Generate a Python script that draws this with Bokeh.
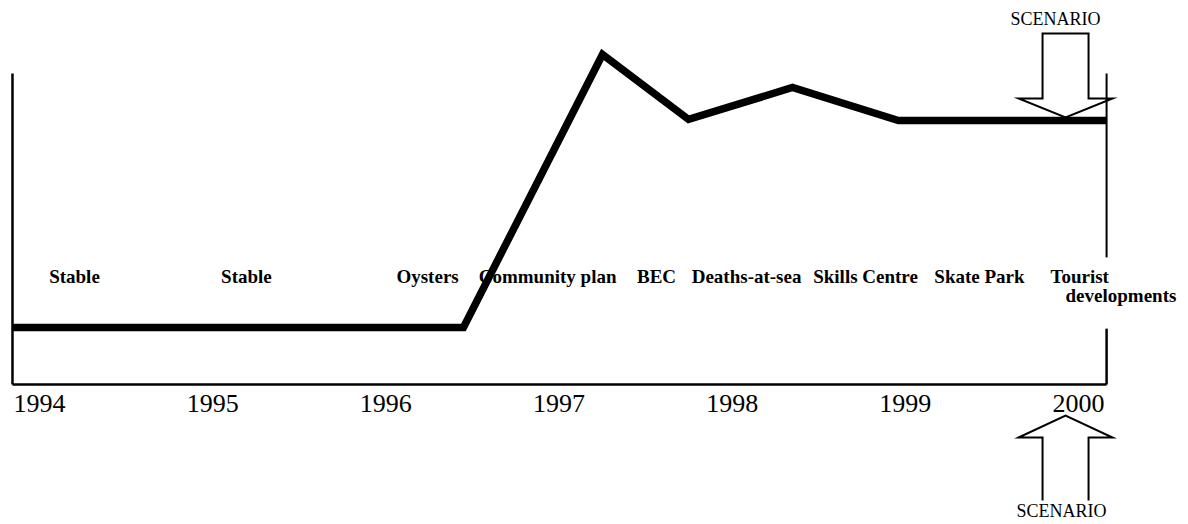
from bokeh.plotting import figure
from bokeh.models import Range1d, ColumnDataSource
from bokeh.core.properties import value
from bokeh.embed import file_html
from bokeh.resources import INLINE

# ---- data ----
years = [1994, 1995, 1996, 1997, 1998, 1999, 2000]
year_labels = [str(y) for y in years]

# trajectory of the "level" (arbitrary units), x in years
trend_x = [1993.844, 1996.448, 1997.251, 1997.748, 1998.348, 1998.960, 2000.162]
trend_y = [1.0, 1.0, 5.79, 4.65, 5.21, 4.63, 4.63]

events = ["Stable", "Stable", "Oysters", "Community plan", "BEC",
          "Deaths-at-sea", "Skills Centre", "Skate Park"]
event_x = [1994.202, 1995.195, 1996.241, 1996.934, 1997.563,
           1998.083, 1998.770, 1999.428]
last_event = ["Tourist", "developments"]
last_event_x = [1999.838, 1999.925]

scenario_x = 1999.925   # where the scenario arrows point
axis_start, axis_end = 1993.844, 2000.162
frame_top = 5.456

# ---- figure ----
W, H = 1188, 524
X0, X1 = 1993.7748, 2000.6350
Y0, Y1 = -2.4561, 6.7368
p = figure(width=W, height=H, output_backend="svg", toolbar_location=None,
           x_range=Range1d(X0, X1), y_range=Range1d(Y0, Y1),
           x_axis_type=None, y_axis_type=None, min_border=0,
           outline_line_color=None, background_fill_color="white",
           border_fill_color="white")
p.grid.visible = False

px_x = (X1 - X0) / W   # years per pixel
px_y = (Y1 - Y0) / H   # units per pixel

SERIF = value("Liberation Serif")

# scenario arrows (outline, white fill)
sw, hw = 23 * px_x, 47 * px_x
top_shaft, top_wing, top_tip = 6.158, 5.018, 4.684
ax = [scenario_x - sw, scenario_x + sw, scenario_x + sw, scenario_x + hw,
      scenario_x, scenario_x - hw, scenario_x - sw]
ay = [top_shaft, top_shaft, top_wing, top_wing, top_tip, top_wing, top_wing]
p.patch(ax, ay, fill_color="white", line_color="black", line_width=2,
        line_join="miter")

bot_tip, bot_wing, bot_end = -0.544, -0.930, -2.035
bx = [scenario_x - sw, scenario_x - sw, scenario_x - hw, scenario_x,
      scenario_x + hw, scenario_x + sw, scenario_x + sw]
by = [bot_end, bot_wing, bot_wing, bot_tip, bot_wing, bot_wing, bot_end]
p.patch(bx, by, fill_color="white", line_color=None)
p.line(bx, by, line_color="black", line_width=2, line_join="miter")

p.text(x=[scenario_x - 10 * px_x], y=[6.421], text=["SCENARIO"],
       text_font=SERIF, text_font_size="18px", text_align="center",
       text_baseline="alphabetic", text_color="black")
p.text(x=[scenario_x - 4 * px_x], y=[-2.228], text=["SCENARIO"],
       text_font=SERIF, text_font_size="18px", text_align="center",
       text_baseline="alphabetic", text_color="black")

# frame lines
p.line([axis_start, axis_start], [0, frame_top], line_color="black", line_width=2.5)
p.line([axis_start, axis_end], [0, 0], line_color="black", line_width=2.5)
p.line([axis_end, axis_end], [0, 0.98], line_color="black", line_width=2.5)
p.line([axis_end, axis_end], [2.23, frame_top], line_color="black", line_width=2)

# trajectory
p.line(trend_x, trend_y, line_color="black", line_width=7.5,
       line_join="miter", line_cap="butt")

# year labels
p.text(x=years, y=[-0.333] * len(years), text=year_labels, text_font=SERIF,
       text_font_size="26px", text_align="center", text_baseline="alphabetic",
       text_color="black")

# event labels
src = ColumnDataSource(dict(x=event_x, y=[1.895] * len(events), t=events))
p.text(x="x", y="y", text="t", source=src, text_font=SERIF,
       text_font_size="19px", text_font_style="bold", text_align="center",
       text_baseline="alphabetic", text_color="black")
p.text(x=[last_event_x[0]], y=[1.895], text=[last_event[0]], text_font=SERIF,
       text_font_size="19px", text_font_style="bold", text_align="left",
       text_baseline="alphabetic", text_color="black")
p.text(x=[last_event_x[1]], y=[1.562], text=[last_event[1]], text_font=SERIF,
       text_font_size="19px", text_font_style="bold", text_align="left",
       text_baseline="alphabetic", text_color="black")

open("out.html", "w").write(file_html(p, INLINE))
